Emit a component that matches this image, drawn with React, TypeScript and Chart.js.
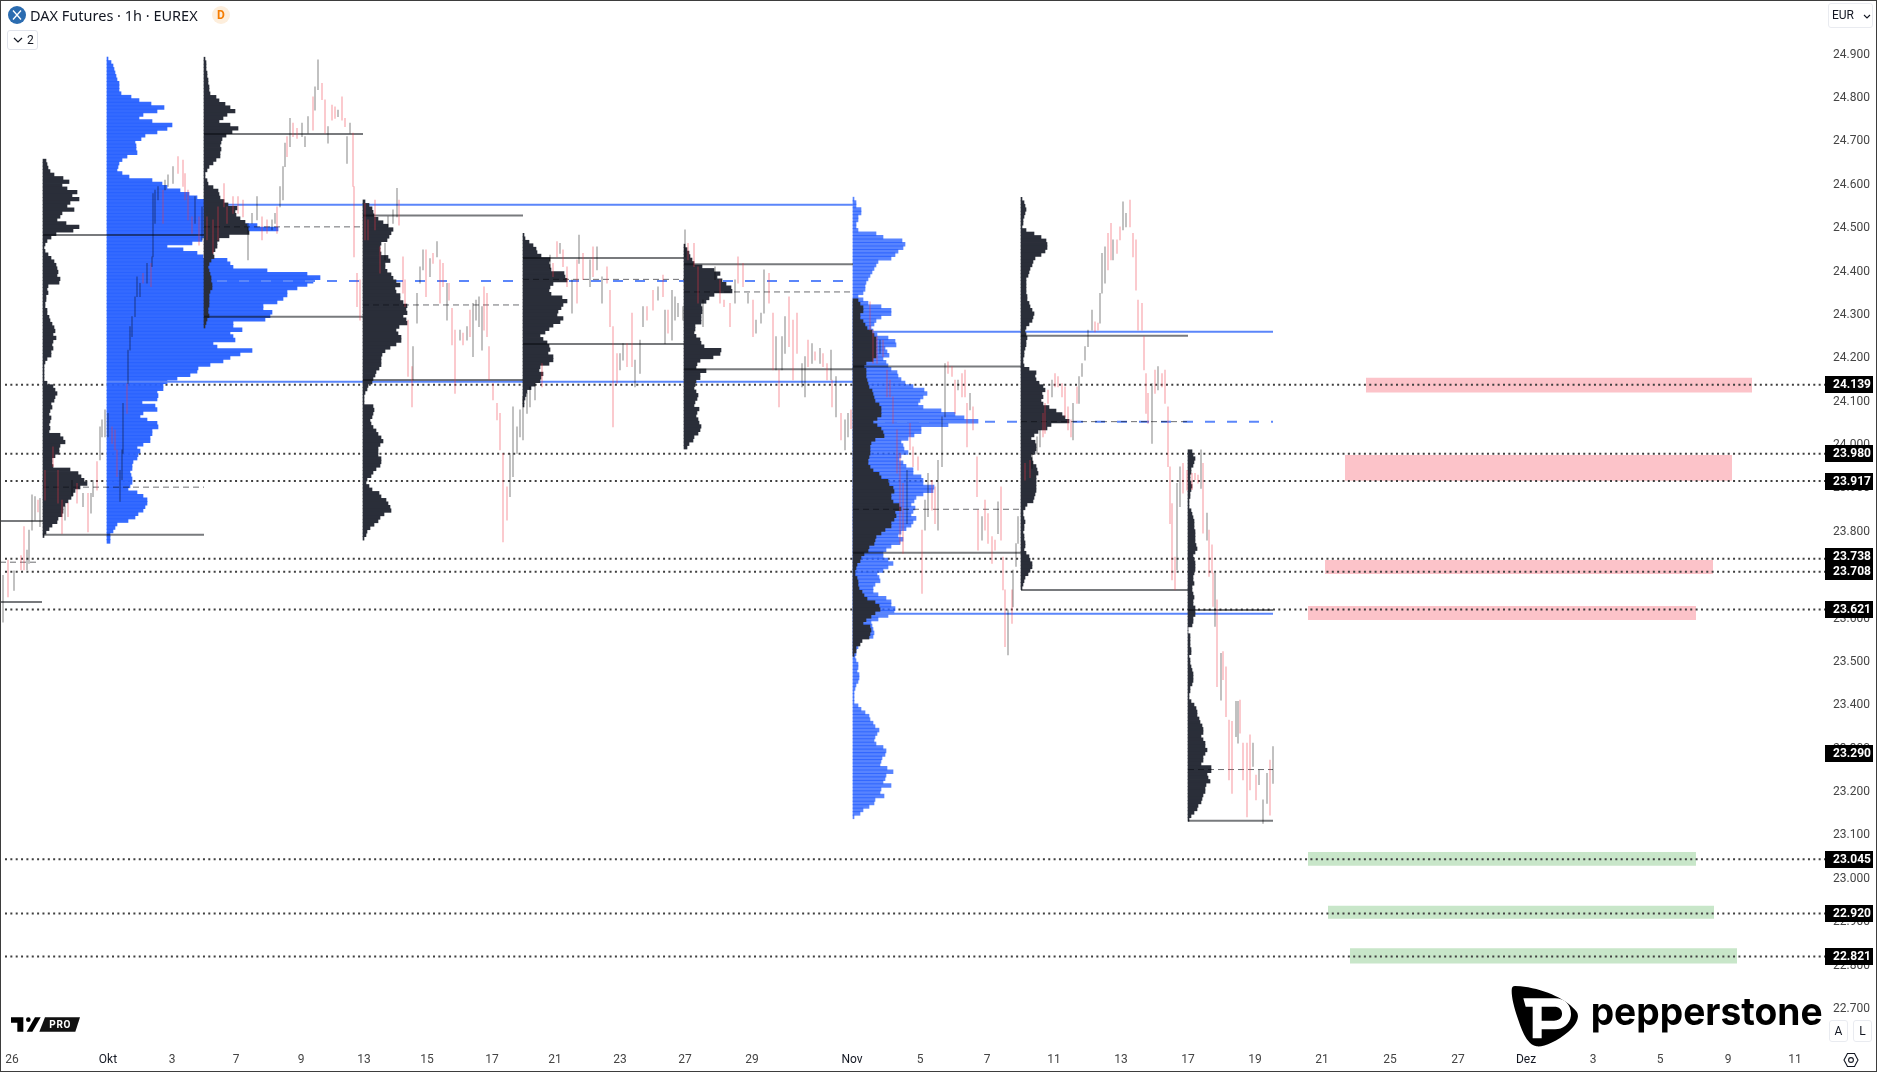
import React, { useEffect, useRef } from "react";
import { Chart, registerables } from "chart.js";

Chart.register(...registerables);

// ---------- axes ----------
const priceTicks = [22700, 22800, 22900, 23000, 23100, 23200, 23300, 23400, 23500, 23600, 23700, 23800, 23900, 24000, 24100, 24200, 24300, 24400, 24500, 24600, 24700, 24800, 24900];
const timeTickAt = [12, 108, 172, 236, 301, 364, 427, 492, 555, 620, 685, 752, 852, 920, 987, 1054, 1121, 1188, 1255, 1322, 1390, 1458, 1526, 1593, 1660, 1728, 1795];
const timeTickLabels = ["26", "Okt", "3", "7", "9", "13", "15", "17", "21", "23", "27", "29", "Nov", "5", "7", "11", "13", "17", "19", "21", "25", "27", "Dez", "3", "5", "9", "11"];
const monthLabels = ["Okt", "Nov", "Dez"];

// ---------- levels ----------
const dottedLevels = [24139, 23980, 23917, 23738, 23708, 23621, 23045, 22920, 22821];
const priceTags = [24139, 23980, 23917, 23738, 23708, 23621, 23290, 23045, 22920, 22821];
const resistanceZones = [
  [1366, 1752, 24121, 24155],
  [1345, 1732, 23918, 23977],
  [1325, 1713, 23703, 23735],
  [1308, 1696, 23597, 23629],
];
const supportZones = [
  [1308, 1696, 23030, 23062],
  [1328, 1714, 22908, 22938],
  [1350, 1737, 22805, 22840],
];

// [from, to, price]
const solidBlueLines = [
  [204, 853, 24554],
  [107, 853, 24146],
  [853, 1273, 24261],
  [853, 1273, 23611],
];
const dashedBlueLines = [
  [217, 853, 24378],
  [853, 1273, 24054],
];
const solidGreyLines = [
  [0, 43, 23825],
  [0, 42, 23638],
  [43, 204, 24484],
  [43, 204, 23793],
  [204, 363, 24717],
  [204, 363, 24296],
  [363, 523, 24529],
  [363, 523, 24150],
  [523, 684, 24431],
  [523, 684, 24233],
  [684, 853, 24417],
  [684, 853, 24175],
  [853, 1021, 24181],
  [853, 1021, 23752],
  [1021, 1188, 24252],
  [1021, 1188, 23666],
  [1188, 1273, 23620],
  [1188, 1273, 23134],
];
const dashedGreyLines = [
  [0, 38, 23730],
  [43, 204, 23903],
  [204, 363, 24503],
  [363, 523, 24323],
  [523, 684, 24382],
  [684, 853, 24353],
  [853, 1021, 23852],
  [1021, 1188, 24054],
  [1188, 1273, 23252],
];

// ---------- volume profiles: row widths from the top price down, one row per 8 points ----------
const binSize = 8;
const profile1 = [3,4,5,7,11,20,26,19,24,34,29,36,27,24,31,19,17,14,23,36,30,13,8,4,2,1,2,5,8,11,13,14,15,14,17,16,5,4,5,3,3,2,2,4,4,6,7,9,11,12,10,13,10,9,10,8,8,4,2,1,1,1,1,1,4,10,12,14,12,11,8,9,7,6,8,7,6,7,6,17,20,22,17,16,16,12,9,9,10,27,35,38,41,44,37,32,30,28,25,22,20,20,19,15,14,9,6,3,1];
const profile2 = [1,4,6,7,8,9,10,12,12,12,14,24,32,44,57,50,36,32,45,65,60,50,38,34,28,29,29,30,20,15,12,11,10,15,22,45,55,60,73,82,90,97,99,100,103,105,108,112,150,171,110,100,95,85,60,76,90,96,120,123,126,160,200,213,206,200,190,180,180,176,170,156,156,165,163,158,126,126,135,123,126,128,106,110,145,133,123,116,103,91,90,83,70,60,56,56,50,51,50,35,48,50,36,33,40,50,51,45,45,43,43,36,30,33,31,30,26,25,25,23,24,25,25,23,21,30,36,40,40,38,36,31,28,21,10,8,6,3,3,3];
const profile3 = [1,2,2,2,3,3,4,4,5,5,6,12,15,21,26,31,23,19,15,26,34,28,22,18,17,16,17,16,16,12,9,5,3,1,1,3,4,9,14,15,16,20,24,33,31,32,36,41,43,44,45,25,15,13,13,11,9,10,7,5,4,5,6,7,7,8,8,6,5,5,5,5,4,4,5,3,2,1];
const profile4 = [2,6,9,10,11,15,20,25,30,28,26,24,18,17,17,18,25,27,22,22,24,28,30,33,37,32,33,37,37,40,44,43,44,40,43,44,36,33,35,38,38,33,27,22,19,18,18,18,16,13,12,10,9,5,4,2,1,1,1,10,11,10,9,7,8,10,13,15,18,20,17,15,15,15,18,18,17,13,10,8,4,3,6,9,16,18,23,25,27,28,21,17,15,11,7,4,3,1];
const profile5 = [1,2,6,10,13,14,18,27,26,27,28,41,42,44,30,27,26,28,39,44,40,38,35,34,40,37,30,26,22,17,20,24,26,27,25,30,30,26,17,16,20,18,17,12,8,4,3,2,1,1];
const profile6 = [1,3,5,6,8,10,18,30,36,33,38,42,47,48,30,25,22,17,18,18,17,17,17,11,11,10,12,16,17,20,37,36,29,16,13,12,22,16,16,12,11,10,12,14,13,11,10,15,13,12,14,15,17,16,14,10,9,5,3];
const profile7Blue = [1,3,3,8,8,5,5,3,3,5,23,30,49,52,50,45,42,38,25,23,21,19,17,15,13,12,12,10,5,10,15,28,38,38,28,23,21,18,20,24,35,42,43,32,34,36,30,33,35,38,44,45,48,52,60,71,74,70,67,65,70,88,102,111,125,95,68,68,61,55,48,50,51,55,48,46,50,53,60,60,68,70,70,81,80,70,63,61,58,62,60,58,63,60,58,53,48,45,50,47,38,33,30,30,35,40,35,30,24,26,27,22,20,20,25,33,38,38,42,41,35,25,18,19,20,21,20,8,6,5,3,3,2,3,5,5,4,6,6,5,3,2,1,1,1,1,5,8,12,16,17,20,22,26,24,22,21,23,30,33,32,29,28,27,34,40,33,32,30,38,28,27,31,22,21,16,10,7,1];
const profile7Dark = [5,7,10,10,7,7,10,12,14,19,21,23,23,23,23,23,23,20,13,11,13,13,13,14,15,16,19,20,21,22,26,28,28,28,24,20,24,28,30,31,22,18,17,17,17,16,15,15,17,20,26,28,35,36,40,41,38,38,40,46,48,42,43,41,38,38,32,28,23,22,21,16,15,11,8,7,4,3,2,2,4,5,5,6,9,11,14,22,26,27,22,18,13,10,17,18,17,16,9,7,3,3,1];
const profile8 = [1,3,4,5,4,3,2,2,1,5,13,20,25,26,26,24,20,14,12,11,9,8,7,5,5,5,5,5,6,6,8,9,11,13,12,11,8,5,4,5,6,5,5,4,3,3,2,2,3,8,15,14,15,18,22,24,21,22,20,22,28,35,41,44,48,30,26,17,13,10,14,15,15,14,10,11,12,15,16,17,15,15,15,15,15,14,13,12,6,4,2,2,3,4,3,3,2,3,3,4,4,3,5,8,9,11,11,9,7,4,3,2,1];
const profile9 = [4,5,7,6,5,3,3,2,2,3,4,3,2,2,1,1,1,3,4,5,6,6,6,7,7,7,7,8,9,7,5,6,7,7,7,6,5,5,6,4,4,5,6,5,5,7,7,7,5,5,4,0,0,2,2,2,2,3,3,1,2,2,3,4,5,5,5,4,2,2,1,1,3,6,8,9,9,11,12,14,15,15,13,15,17,17,19,17,15,15,13,23,23,19,20,22,18,17,17,15,14,13,10,9,6,3,1];

// ---------- candles: [bar position, low, high, falling] ----------
const candlesSeptember = [
  [3,23592,23700,0],[8,23650,23735,1],[14,23665,23710,0],[21,23712,23745,1],[24,23712,23812,1],[27,23712,23758,0],[29,23727,23804,0],[32,23804,23885,0],[35,23827,23881,0],[38,23846,23873,1],[40,23812,23877,0],
  [45,23873,23942,1],[53,23950,23996,1],[58,23866,23942,1],[62,23796,23873,1],[65,23827,23858,0],[68,23835,23866,1],[72,23881,23919,0],[77,23866,23912,1],[83,23858,23889,0],[88,23800,23889,1],[91,23843,23889,0],[93,23881,23919,0],[97,23896,23962,1],[100,23966,24042,0],[102,24019,24058,0],[105,24019,24081,0],
];
const candlesOctoberStart = [
  [108,24019,24073,0],[112,24004,24042,1],[115,23989,24035,1],[117,23927,23989,1],[120,23870,23942,0],[122,23920,23989,0],[123,23981,24096,0],[127,24073,24142,1],[128,24142,24219,0],[130,24219,24273,0],[132,24250,24296,0],[135,24296,24342,0],[137,24342,24388,0],[140,24342,24373,0],[143,24373,24396,1],[147,24373,24419,0],[151,24365,24419,1],[152,24411,24434,0],[153,24434,24580,0],[155,24511,24588,0],[158,24565,24596,0],[163,24511,24588,1],[165,24588,24611,0],[168,24596,24623,0],[173,24603,24642,0],[178,24626,24665,1],[183,24596,24657,1],[185,24565,24626,1],[188,24519,24588,1],[192,24488,24526,1],[195,24511,24573,0],[199,24461,24526,1],[202,24473,24549,0],
  [207,24473,24526,1],[213,24442,24519,1],[218,24473,24549,1],[224,24549,24603,1],[227,24511,24549,1],[233,24534,24573,1],[238,24534,24573,1],[243,24526,24565,1],[248,24427,24511,0],[252,24511,24534,0],[257,24519,24573,0],[262,24473,24526,1],[267,24488,24519,1],[272,24496,24519,0],[275,24511,24534,0],[277,24488,24549,1],[280,24549,24596,0],[283,24565,24642,0],[285,24642,24696,0],[287,24665,24711,1],[290,24688,24753,0],[293,24711,24742,1],[297,24707,24730,1],[302,24711,24742,0],[305,24688,24711,0],[308,24719,24757,0],[313,24726,24803,1],[315,24772,24826,0],[318,24819,24888,0],[322,24796,24834,1],[325,24719,24796,1],[328,24696,24734,0],[332,24749,24784,1],[335,24753,24780,1],[338,24757,24772,0],[342,24749,24803,1],[345,24734,24753,1],[347,24649,24711,0],[350,24719,24742,0],[353,24596,24719,1],[354,24434,24596,1],[357,24319,24396,1],[360,24288,24381,1],
];
const candlesOctoberMid = [
  [365,24473,24557,1],[368,24473,24519,1],[375,24496,24565,1],[380,24396,24457,1],[385,24427,24465,0],[388,24503,24527,0],[393,24511,24542,0],[397,24526,24592,0],[399,24507,24565,1],[403,24350,24434,1],[405,24319,24381,1],[408,24158,24288,1],[412,24088,24181,1],[413,24150,24227,0],[417,24281,24350,0],[420,24373,24411,0],[423,24404,24450,0],[426,24342,24450,1],[430,24388,24430,0],[433,24419,24442,1],[437,24434,24469,0],[440,24327,24427,1],[443,24365,24419,1],[447,24288,24373,0],[449,24334,24373,1],[452,24231,24315,1],[455,24119,24265,1],[460,24242,24265,0],[463,24231,24258,1],[467,24242,24273,0],[470,24250,24311,1],[473,24204,24327,0],[476,24288,24334,0],[479,24273,24342,0],[482,24219,24319,0],[484,24265,24365,1],[487,24250,24350,1],[489,24150,24227,1],[493,24104,24142,1],[497,24058,24096,1],[500,23989,24073,1],[503,23777,23981,1],[507,23827,23904,1],[510,23881,23981,0],[513,23927,24088,0],[517,23981,24042,0],[520,24019,24081,0],[523,24012,24111,0],[527,24073,24119,0],[530,24088,24134,0],[535,24104,24142,0],[542,24134,24188,1],
  [550,24407,24438,0],[553,24388,24419,1],[557,24434,24469,1],[560,24442,24465,0],[563,24411,24450,1],[567,24365,24411,1],[572,24304,24381,0],[577,24327,24427,1],[579,24419,24484,0],[583,24381,24442,1],[590,24365,24427,0],[593,24388,24457,1],[597,24404,24457,0],[602,24327,24388,0],[607,24373,24411,1],[610,24273,24357,1],[613,24042,24273,1],[617,24142,24211,1],[620,24173,24211,0],[623,24196,24234,0],[627,24181,24234,1],[632,24181,24304,1],[635,24134,24196,0],[640,24165,24242,0],[643,24273,24319,0],[647,24288,24319,1],[653,24311,24357,1],[658,24334,24365,0],[663,24342,24392,1],[665,24234,24311,0],[668,24258,24311,1],[672,24242,24357,0],[675,24288,24342,0],[678,24296,24327,0],[683,24288,24319,0],
];
const candlesOctoberEnd = [
  [685,24434,24496,0],[688,24427,24465,1],[694,24411,24465,1],[698,24327,24411,1],[703,24273,24334,0],[715,24381,24411,0],[720,24327,24381,1],[724,24319,24334,1],[730,24273,24327,1],[735,24327,24381,0],[738,24373,24434,1],[743,24365,24419,1],[748,24327,24350,0],[753,24250,24334,1],[756,24258,24288,0],[761,24281,24304,0],[764,24304,24404,0],[769,24327,24396,1],[773,24173,24304,1],[776,24173,24250,0],[779,24088,24173,1],[782,24173,24250,0],[785,24211,24296,0],[789,24227,24342,1],[793,24150,24288,1],[797,24211,24304,1],[802,24134,24188,0],[805,24111,24204,0],[808,24181,24242,1],[812,24188,24234,0],[815,24196,24215,1],[820,24188,24223,0],[823,24181,24211,1],[827,24150,24188,1],[831,24150,24219,0],[832,24088,24150,1],[836,24065,24158,0],[841,24012,24073,1],[845,23989,24058,0],[848,24019,24073,0],[851,24038,24081,1],
];
const candlesNovemberStart = [
  [870,24265,24330,1],[873,24188,24265,1],[877,24188,24250,1],[880,24211,24242,0],[883,24204,24242,1],[887,24111,24173,1],[890,24111,24150,1],[893,24050,24111,1],[897,23935,24035,1],[900,23773,23981,1],[903,23750,23912,1],[907,23819,23942,0],[910,23989,24050,1],[913,23950,23996,1],[918,23942,23973,1],[922,23658,23804,1],[925,23804,23873,0],[928,23835,23935,0],[932,23850,23919,1],[935,23819,23904,1],[938,23804,23965,0],[942,23950,24065,0],[945,24065,24188,0],[948,24165,24192,1],[952,24158,24181,1],[955,24073,24150,1],[958,24127,24150,0],[962,24111,24165,1],[965,24111,24173,1],[967,23996,24096,1],[970,24081,24119,0],[973,24035,24088,1],[977,23881,23973,1],[978,23758,23850,1],[982,23781,23835,0],[985,23804,23873,1],[988,23773,23842,1],[992,23727,23789,1],[995,23758,23781,1],[998,23796,23869,0],[1001,23781,23904,1],[1003,23666,23742,1],[1005,23535,23666,1],[1008,23516,23620,0],[1012,23589,23666,1],[1013,23627,23712,0],[1016,23720,23773,0],[1018,23773,23835,0],
];
const candlesNovemberMid = [
  [1025,23919,23958,1],[1030,23925,23965,1],[1032,23946,23981,0],[1037,23981,24019,0],[1040,23996,24035,0],[1043,24019,24073,1],[1045,24027,24096,1],[1048,24096,24127,1],[1052,24111,24150,0],[1055,24134,24165,1],[1058,24134,24158,1],[1062,24111,24142,1],[1065,24065,24134,1],[1068,24035,24088,1],[1071,24019,24058,1],[1073,24012,24096,0],[1077,24096,24134,1],[1079,24096,24158,0],[1082,24158,24188,0],[1085,24196,24227,0],[1088,24227,24265,0],[1092,24265,24311,0],[1095,24261,24284,1],[1098,24265,24281,1],[1100,24281,24350,0],[1102,24350,24442,0],[1105,24373,24457,0],[1108,24404,24488,1],[1111,24427,24511,1],[1113,24427,24473,0],[1117,24442,24473,1],[1120,24473,24503,1],[1123,24496,24561,0],[1126,24503,24534,0],[1130,24503,24565,1],[1133,24434,24488,1],[1136,24357,24473,1],[1138,24265,24334,1],[1142,24265,24327,1],[1144,24173,24250,1],[1146,24073,24165,1],[1148,24050,24119,1],[1152,24004,24142,0],[1155,24119,24173,1],[1158,24127,24181,0],[1162,24134,24165,1],[1165,24096,24173,1],[1168,23950,24088,1],[1170,23819,23950,1],[1172,23689,23865,1],[1175,23666,23742,1],[1177,23712,23912,0],[1180,23858,23950,0],[1183,23889,23958,1],[1187,23896,23942,1],
];
const candlesNovemberEnd = [
  [1192,23897,23935,1],[1195,23920,23935,1],[1198,23912,23931,1],[1201,23900,23989,0],[1203,23797,23958,1],[1207,23781,23843,0],[1209,23697,23804,1],[1212,23705,23770,1],[1213,23628,23705,1],[1215,23582,23705,0],[1217,23443,23643,1],[1221,23412,23520,0],[1223,23459,23524,1],[1226,23374,23489,1],[1229,23228,23366,1],[1232,23197,23363,1],[1236,23328,23409,0],[1238,23313,23409,0],[1240,23336,23412,1],[1243,23228,23313,1],[1247,23143,23313,1],[1250,23205,23332,1],[1253,23259,23313,0],[1256,23182,23239,1],[1259,23217,23251,0],[1263,23128,23182,0],[1267,23174,23243,0],[1270,23147,23274,1],[1273,23220,23305,0],
];

const allCandles = [...candlesSeptember, ...candlesOctoberStart, ...candlesOctoberMid, ...candlesOctoberEnd, ...candlesNovemberStart, ...candlesNovemberMid, ...candlesNovemberEnd];

const BLUE_A = "rgba(41,98,255,0.95)";
const BLUE_B = "rgba(41,98,255,0.78)";
const DARK = "#2a2e39";

const profileSets = [
  { widths: profile2, left: 107, top: 24890, color: BLUE_A, order: 30, thick: 3.9 },
  { widths: profile7Blue, left: 853, top: 24567, color: BLUE_B, order: 30, thick: 3.9 },
  { widths: profile1, left: 43, top: 24655, color: DARK, order: 25, thick: 3.6 },
  { widths: profile3, left: 204, top: 24890, color: DARK, order: 25, thick: 3.6 },
  { widths: profile4, left: 363, top: 24561, color: DARK, order: 25, thick: 3.6 },
  { widths: profile5, left: 523, top: 24484, color: DARK, order: 25, thick: 3.6 },
  { widths: profile6, left: 684, top: 24459, color: DARK, order: 25, thick: 3.6 },
  { widths: profile7Dark, left: 853, top: 24333, color: DARK, order: 24, thick: 3.6 },
  { widths: profile8, left: 1021, top: 24567, color: DARK, order: 25, thick: 3.6 },
  { widths: profile9, left: 1188, top: 23985, color: DARK, order: 25, thick: 3.6 },
];

const lineSet = (rows: number[][], style: any) =>
  rows.map(([a, b, p]) => ({
    type: "line",
    data: [{ x: a, y: p }, { x: b, y: p }],
    pointRadius: 0,
    fill: false,
    clip: false,
    ...style,
  }));

const zoneSet = (rows: number[][], color: string) =>
  rows.map(([a, b, lo, hi]) => ({
    type: "line",
    data: [{ x: a, y: hi }, { x: b, y: hi }],
    pointRadius: 0,
    borderWidth: 0,
    borderColor: "transparent",
    backgroundColor: color,
    fill: { value: lo },
    order: 50,
  }));

const fmt = (v: number) => {
  const s = String(Math.round(v));
  return s.slice(0, -3) + "." + s.slice(-3);
};

const noPadding = (s: any) => {
  s.paddingTop = 0;
  s.paddingBottom = 0;
  s.paddingLeft = 0;
  s.paddingRight = 0;
};

const tagPlugin = {
  id: "priceTags",
  afterDraw(chart: any) {
    const { ctx, scales } = chart;
    ctx.save();
    priceTags.forEach((p) => {
      let y = scales.y.getPixelForValue(p);
      if (p === 23738) y -= 2.5;
      ctx.fillStyle = "#000";
      ctx.fillRect(1825, Math.round(y - 8.5), 48, 17);
      ctx.fillStyle = "#fff";
      ctx.font = "bold 12px Roboto";
      ctx.textAlign = "left";
      ctx.textBaseline = "middle";
      ctx.fillText(fmt(p), 1833, y + 0.5);
    });
    ctx.restore();
  },
};

function ChartCanvas() {
  const ref = useRef<HTMLCanvasElement | null>(null);
  useEffect(() => {
    document.body.style.margin = "0";
    const datasets: any[] = [
      ...zoneSet(resistanceZones, "#fcc3c9"),
      ...zoneSet(supportZones, "#c8e6c9"),
      ...dottedLevels.map((p) => ({
        type: "line",
        data: [{ x: 5, y: p }, { x: 1825, y: p }],
        pointRadius: 0,
        borderColor: "#3f3f3f",
        borderWidth: 2,
        borderDash: [2, 3.35],
        clip: false,
        order: 40,
      })),
      ...profileSets.map((s) => ({
        type: "bar",
        indexAxis: "y",
        grouped: false,
        barThickness: s.thick,
        backgroundColor: s.color,
        order: s.order,
        data: s.widths.map((w, i) => ({ y: s.top - i * binSize, x: [s.left, s.left + w] })),
      })),
      ...lineSet(solidBlueLines, { borderColor: "#5b86fa", borderWidth: 2, order: 27 }),
      ...lineSet(dashedBlueLines, { borderColor: "#5b86fa", borderWidth: 2, borderDash: [10, 12], order: 27 }),
      ...lineSet(solidGreyLines, { borderColor: "rgba(10,12,18,0.55)", borderWidth: 2, order: 20 }),
      ...lineSet(dashedGreyLines, { borderColor: "rgba(10,12,18,0.6)", borderWidth: 1, borderDash: [6, 4], order: 20 }),
      {
        type: "bar",
        grouped: false,
        barThickness: 1.3,
        order: 10,
        backgroundColor: allCandles.map((c) => (c[3] ? "rgba(242,54,69,0.27)" : "rgba(0,0,0,0.25)")),
        data: allCandles.map((c) => ({ x: c[0], y: [c[1], c[2]] })),
      },
    ];
    const chart = new Chart(ref.current as HTMLCanvasElement, {
      type: "bar",
      data: { datasets },
      plugins: [tagPlugin],
      options: {
        animation: false,
        responsive: false,
        devicePixelRatio: 1,
        layout: { padding: 0 },
        plugins: { legend: { display: false }, tooltip: { enabled: false } },
        scales: {
          x: {
            type: "linear",
            offset: false,
            min: 0,
            max: 1817,
            grid: { display: false, drawTicks: false, offset: false },
            border: { display: false },
            afterFit: (s: any) => { s.height = 28; noPadding(s); },
            afterBuildTicks: (s: any) => { s.ticks = timeTickAt.map((v) => ({ value: v })); },
            ticks: {
              autoSkip: false,
              maxRotation: 0,
              padding: 8,
              color: (c: any) => (monthLabels.includes(timeTickLabels[c.index]) ? "#131722" : "#444"),
              font: { family: "Roboto", size: 12 },
              callback: (_v: any, i: number) => timeTickLabels[i],
            },
          },
          y: {
            type: "linear",
            position: "right",
            offset: false,
            min: 22617,
            max: 25026,
            grid: { display: false, drawTicks: false, offset: false },
            border: { display: false },
            afterFit: (s: any) => { s.width = 60; noPadding(s); },
            afterBuildTicks: (s: any) => { s.ticks = priceTicks.map((v) => ({ value: v })); },
            ticks: {
              autoSkip: false,
              padding: 16,
              color: "#444",
              font: { family: "Roboto", size: 12 },
              callback: (v: any) => fmt(Number(v)),
            },
          },
        },
      } as any,
    } as any);
    return () => chart.destroy();
  }, []);
  return <canvas ref={ref} width={1877} height={1073} style={{ display: "block", width: 1877, height: 1073 }} />;
}

const abs = (o: any) => ({ position: "absolute", ...o });
const uiFont = "Roboto, 'Noto Sans', sans-serif";

export default function App() {
  return (
    <div style={{ position: "absolute", left: 0, top: 0, width: 1877, height: 1073, overflow: "hidden", background: "#fff", fontFamily: uiFont }}>
      <ChartCanvas />
      <div style={abs({ left: 0, top: 0, width: 1877, height: 1072, boxSizing: "border-box", border: "1px solid #3d3d3d", pointerEvents: "none" })} />
      {/* header */}
      <svg style={abs({ left: 8, top: 6 })} width="18" height="18" viewBox="0 0 18 18">
        <circle cx="9" cy="9" r="9" fill="#2b6cb0" />
        <path d="M5 4.5 L13 13.5 M13 4.5 L5 13.5" stroke="#fff" strokeWidth="1.3" />
      </svg>
      <div style={abs({ left: 30, top: 5, fontFamily: "'Noto Sans'", fontSize: 14.5, lineHeight: "20px", color: "#131722", whiteSpace: "nowrap" })}>DAX Futures · 1h · EUREX</div>
      <div style={abs({ left: 212, top: 6, width: 18, height: 18, borderRadius: 9, background: "#fdeedc", color: "#f57c00", fontSize: 12, fontWeight: 700, lineHeight: "18px", textAlign: "center" })}>D</div>
      <div style={abs({ left: 7, top: 30, width: 31, height: 20, boxSizing: "border-box", border: "1px solid #e0e3eb", borderRadius: 3 })} />
      <svg style={abs({ left: 13, top: 37 })} width="10" height="6" viewBox="0 0 10 6"><path d="M1 1 L5 5 L9 1" fill="none" stroke="#131722" strokeWidth="1.2" /></svg>
      <div style={abs({ left: 27, top: 31, fontSize: 12, lineHeight: "18px", color: "#131722" })}>2</div>
      {/* currency */}
      <div style={abs({ left: 1828, top: 3, width: 45, height: 25, boxSizing: "border-box", border: "1px solid #e9ebf0", borderRadius: 3 })} />
      <div style={abs({ left: 1832, top: 6, fontSize: 12, lineHeight: "18px", color: "#131722" })}>EUR</div>
      <svg style={abs({ left: 1863, top: 14 })} width="8" height="5" viewBox="0 0 8 5"><path d="M1 1 L4 4 L7 1" fill="none" stroke="#131722" strokeWidth="1.1" /></svg>
      {/* A / L */}
      <div style={abs({ left: 1829, top: 1020, width: 19, height: 22, boxSizing: "border-box", border: "1px solid #e9ebf0", borderRadius: 3, fontSize: 12, lineHeight: "20px", textAlign: "center", color: "#131722" })}>A</div>
      <div style={abs({ left: 1853, top: 1020, width: 19, height: 22, boxSizing: "border-box", border: "1px solid #e9ebf0", borderRadius: 3, fontSize: 12, lineHeight: "20px", textAlign: "center", color: "#131722" })}>L</div>
      <svg style={abs({ left: 1843, top: 1052 })} width="16" height="16" viewBox="0 0 16 16">
        <path d="M4.5 1.5 H11.5 L15 8 L11.5 14.5 H4.5 L1 8 Z" fill="none" stroke="#131722" strokeWidth="1.1" />
        <circle cx="8" cy="8" r="2.4" fill="none" stroke="#131722" strokeWidth="1.1" />
      </svg>
      {/* pepperstone */}
      <svg style={abs({ left: 1400, top: 970 })} width="477" height="103" viewBox="0 0 1431 309">
        <path d="M345 48 C420 50 500 85 530 125 C540 140 530 165 505 185 C470 215 430 232 410 229 C385 225 370 195 355 150 C343 115 335 85 335 62 C335 52 338 48 345 48 Z" fill="#000" />
        <path fillRule="evenodd" d="M370 85 H465 C495 85 513 105 513 132 C513 160 490 178 465 178 H425 V205 H398 V110 H377 Z M425 110 V152 H462 C478 152 486 143 486 131 C486 118 478 110 462 110 Z" fill="#fff" />
        <text x="572" y="165" fontFamily="Inter, Lato" fontWeight="700" fontSize="116" textLength="696" lengthAdjust="spacingAndGlyphs" fill="#000">pepperstone</text>
      </svg>
      {/* TV pro */}
      <svg style={abs({ left: 0, top: 980 })} width="400" height="93" viewBox="0 0 1200 279">
        <path d="M33 112 H70 V155 H52 V128 H33 Z" fill="#000" />
        <circle cx="85" cy="119" r="7" fill="#000" />
        <path d="M80 155 L105 112 H122 L97 155 Z" fill="#000" />
        <path d="M118 155 L135 112 H240 L226 155 Z" fill="#111" />
        <text x="148" y="144" fontFamily="Roboto" fontWeight="700" fontSize="30" letterSpacing="2" fill="#fff">PRO</text>
      </svg>
    </div>
  );
}
